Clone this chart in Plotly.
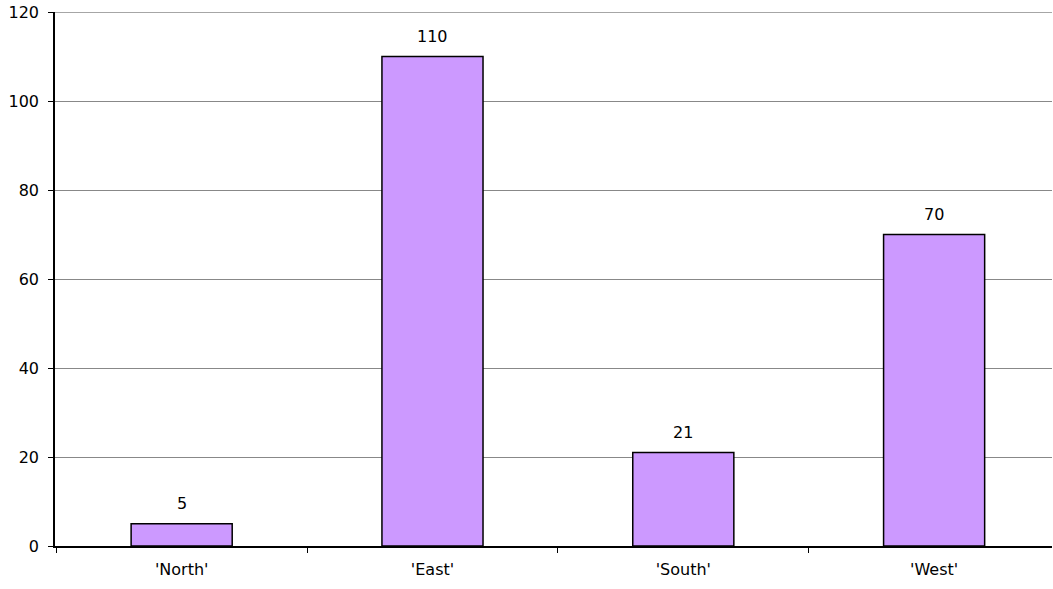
import plotly.graph_objects as go

categories = ["'North'", "'East'", "'South'", "'West'"]
values = [5, 110, 21, 70]
y_ticks = [0, 20, 40, 60, 80, 100, 120]

FONT = "DejaVu Sans"
FS = 16

fig = go.Figure()
fig.add_trace(go.Bar(
    x=categories, y=values,
    marker=dict(color="#CC99FF", line=dict(color="#000000", width=1.5)),
    width=0.403,
    cliponaxis=False,
))
for c, v in zip(categories, values):
    fig.add_annotation(
        x=c, y=v, text=str(v), showarrow=False,
        yanchor="bottom", yshift=9,
        font=dict(family=FONT, size=FS, color="#000000"),
    )
# top gridline at the maximum of the value axis
fig.add_shape(type="line", xref="paper", yref="y", x0=0, x1=1,
              y0=y_ticks[-1], y1=y_ticks[-1],
              line=dict(color="#888888", width=1.5), layer="below")
fig.update_layout(
    width=1053, height=589,
    margin=dict(l=55, r=1, t=12, b=43, autoexpand=False),
    paper_bgcolor="white", plot_bgcolor="white",
    font=dict(family=FONT, size=FS, color="#000000"),
    showlegend=False,
)
fig.update_xaxes(
    range=[-0.505, 3.47],
    showline=True, linecolor="#000000", linewidth=1.5,
    ticks="outside", ticklen=5, tickcolor="#000000", tickson="boundaries",
    showgrid=False, automargin=False, ticklabelstandoff=8,
)
fig.update_yaxes(
    range=[0, 120], tickvals=y_ticks,
    showline=True, linecolor="#000000", linewidth=1.5,
    ticks="outside", ticklen=5, tickcolor="#000000",
    showgrid=True, gridcolor="#888888", gridwidth=1,
    zeroline=False, automargin=False, ticklabelstandoff=6,
    ticklabeloverflow="allow",
)
fig.write_html("out.html", config={"displayModeBar": False},
               post_script="document.body.style.margin='0';")
